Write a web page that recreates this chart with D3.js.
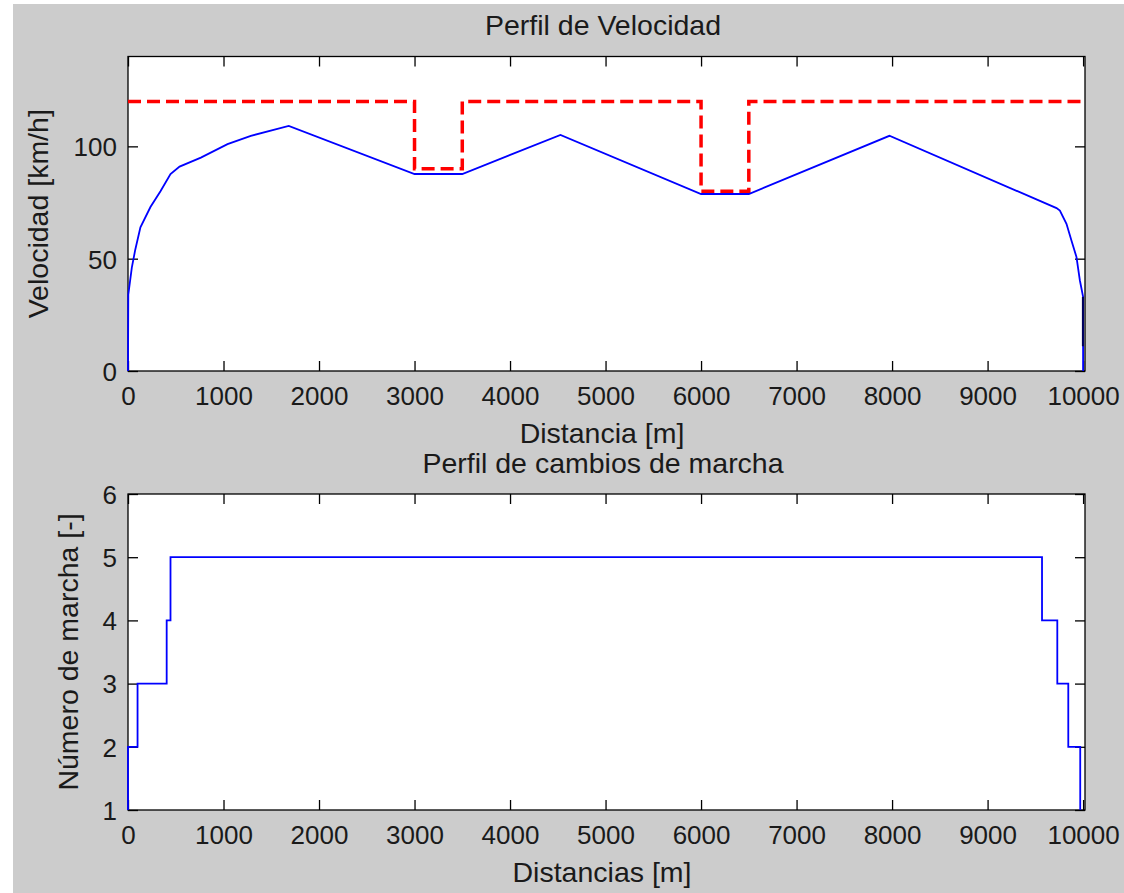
<!DOCTYPE html>
<html>
<head>
<meta charset="utf-8">
<script src="https://cdn.jsdelivr.net/npm/d3@7"></script>
<style>
  body { margin: 0; background: #fff; }
  text { font-family: "Liberation Sans", Arial, sans-serif; fill: #1a1a1a; }
</style>
</head>
<body>
<script>
// velocidad vs distancia
var distancia = [0, 0, 3, 40, 76, 130, 235, 340, 445, 540, 763, 1042, 1286, 1683, 3000, 3500, 4528, 6000, 6500, 7972, 9722, 9757, 9826, 9878, 9931, 9966, 10000, 10000];
var velocidad = [0, 0, 34, 46, 54, 64, 73, 80, 87.7, 91, 95, 101, 104.7, 109.1, 87.7, 87.7, 105.1, 78.8, 78.8, 104.7, 72.5, 71.4, 65.5, 58.1, 50.7, 40.4, 33, 0];

// tramo final (trazo oscuro superpuesto)
var distFinal = [9998, 9998];
var velFinal = [33, 11];

// limite de velocidad
var distLimite = [0, 3000, 3000, 3500, 3500, 6000, 6000, 6500, 6500, 10000];
var limite = [120, 120, 90, 90, 120, 120, 80, 80, 120, 120];

// marchas
var distMarcha = [0, 0, 100, 405, 445, 9570, 9730, 9845, 9970];
var marcha = [1, 2, 3, 4, 5, 4, 3, 2, 1];

var xTicks = [0, 1000, 2000, 3000, 4000, 5000, 6000, 7000, 8000, 9000, 10000];
var velTicks = [0, 50, 100];
var marchaTicks = [1, 2, 3, 4, 5, 6];

var W = 1124, H = 893;
var left = 128, right = 1085;
var fsTick = 26, fsLabel = 28.5;

var svg = d3.select("body").append("svg")
    .attr("width", W)
    .attr("height", H);

svg.append("rect")
    .attr("x", 13).attr("y", 4)
    .attr("width", W - 13).attr("height", H - 4)
    .attr("fill", "#cccccc");

var x = d3.scaleLinear().domain([0, 10020]).range([left, right]);

function drawPanel(opts) {
    var y = opts.y;
    var top = y.range()[1], bottom = y.range()[0];

    svg.append("rect")
        .attr("x", left).attr("y", top)
        .attr("width", right - left).attr("height", bottom - top)
        .attr("fill", "#fff");

    // ticks on all four sides
    var gB = svg.append("g")
        .attr("transform", "translate(0," + bottom + ")")
        .call(d3.axisBottom(x).tickValues(xTicks).tickSize(-10).tickPadding(16).tickFormat(d3.format("d")));
    var gT = svg.append("g")
        .attr("transform", "translate(0," + top + ")")
        .call(d3.axisTop(x).tickValues(xTicks).tickSize(-10).tickFormat(""));
    var gL = svg.append("g")
        .attr("transform", "translate(" + left + ",0)")
        .call(d3.axisLeft(y).tickValues(opts.yTicks).tickSize(-10).tickPadding(11).tickFormat(d3.format("d")));
    var gR = svg.append("g")
        .attr("transform", "translate(" + right + ",0)")
        .call(d3.axisRight(y).tickValues(opts.yTicks).tickSize(-10).tickFormat(""));

    [gB, gT, gL, gR].forEach(function(g) {
        g.select(".domain").remove();
        g.selectAll(".tick line").attr("stroke", "#000").attr("stroke-width", 1.3);
        g.selectAll("text")
            .attr("font-family", "Liberation Sans, Arial, sans-serif")
            .attr("font-size", fsTick)
            .attr("fill", "#1a1a1a");
    });
    gL.selectAll("text").attr("dy", "0.36em");

    svg.append("rect")
        .attr("x", left).attr("y", top)
        .attr("width", right - left).attr("height", bottom - top)
        .attr("fill", "none")
        .attr("stroke", "#000")
        .attr("stroke-width", 1.3);

    svg.append("text")
        .attr("x", 603).attr("y", opts.titleY)
        .attr("text-anchor", "middle")
        .attr("font-size", fsLabel)
        .text(opts.title);

    svg.append("text")
        .attr("x", 602).attr("y", opts.xLabelY)
        .attr("text-anchor", "middle")
        .attr("font-size", fsLabel)
        .text(opts.xLabel);

    svg.append("text")
        .attr("transform", "translate(" + opts.yLabelX + "," + (top + bottom) / 2 + ") rotate(-90)")
        .attr("text-anchor", "middle")
        .attr("font-size", fsLabel)
        .text(opts.yLabel);
}

// ---- panel 1: perfil de velocidad
var y1 = d3.scaleLinear().domain([0, 140]).range([371, 56.5]);
drawPanel({
    y: y1, yTicks: velTicks,
    title: "Perfil de Velocidad", titleY: 35,
    xLabel: "Distancia [m]", xLabelY: 443,
    yLabel: "Velocidad [km/h]", yLabelX: 48
});

var lineVel = d3.line()
    .x(function(d) { return x(d[0]); })
    .y(function(d) { return y1(d[1]); });

svg.append("path")
    .datum(d3.zip(distLimite, limite))
    .attr("d", lineVel)
    .attr("fill", "none")
    .attr("stroke", "#ff0000")
    .attr("stroke-width", 3.5)
    .attr("stroke-dasharray", "13,6");

svg.append("path")
    .datum(d3.zip(distancia, velocidad))
    .attr("d", lineVel)
    .attr("fill", "none")
    .attr("stroke", "#0000ff")
    .attr("stroke-width", 1.8);

svg.append("path")
    .datum(d3.zip(distFinal, velFinal))
    .attr("d", lineVel)
    .attr("fill", "none")
    .attr("stroke", "#00005a")
    .attr("stroke-width", 2);

// ---- panel 2: perfil de cambios de marcha
var y2 = d3.scaleLinear().domain([1, 6]).range([810, 494]);
drawPanel({
    y: y2, yTicks: marchaTicks,
    title: "Perfil de cambios de marcha", titleY: 473,
    xLabel: "Distancias [m]", xLabelY: 882,
    yLabel: "Número de marcha [-]", yLabelX: 78
});

svg.append("path")
    .datum(d3.zip(distMarcha, marcha))
    .attr("d", d3.line()
        .x(function(d) { return x(d[0]); })
        .y(function(d) { return y2(d[1]); })
        .curve(d3.curveStepAfter))
    .attr("fill", "none")
    .attr("stroke", "#0000ff")
    .attr("stroke-width", 1.8);
</script>
</body>
</html>
